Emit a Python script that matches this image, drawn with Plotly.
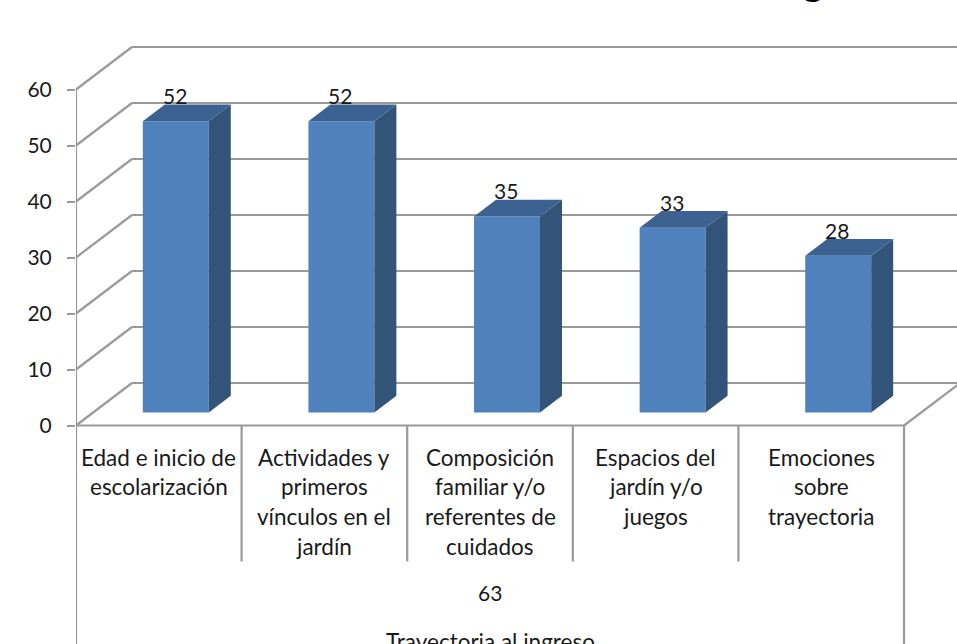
import plotly.graph_objects as go

categories = ["Edad e inicio de<br>escolarización",
              "Actividades y<br>primeros<br>vínculos en el<br>jardín",
              "Composición<br>familiar y/o<br>referentes de<br>cuidados",
              "Espacios del<br>jardín y/o<br>juegos",
              "Emociones<br>sobre<br>trayectoria"]
values = [52, 52, 35, 33, 28]
y_ticks = [0, 10, 20, 30, 40, 50, 60]
group_labels = ["63", "Trayectoria al ingreso"]
title_fragment = "g"

W, H = 957, 644
X0, Y0 = 75.5, 425.5
PX_CAT, PX_VAL = 165.7, 5.6
GRID = "#9a9a9a"
FRONT, SIDE, TOP = "#4f81bd", "#325479", "#3c6292"
TEXT = "#1a1a1a"
FONT = "Lato"
FS_NUM, FS_CAT = 21, 22.5

def dx(px):
    return px / PX_CAT
def dy(px):
    return px / PX_VAL

wall_dx, wall_dy = dx(56), dy(42.5)
floor_dx, floor_dy = dx(17), dy(13)
depth_dx, depth_dy = dx(22), dy(16.7)
bar_w = dx(66)

n = len(categories)
y_bottom = -(H - Y0) / PX_VAL
y_top = Y0 / PX_VAL
x_right = (W - X0) / PX_CAT

fig = go.Figure()

def seg(x1, y1, x2, y2):
    fig.add_shape(type="line", x0=x1, y0=y1, x1=x2, y1=y2, xref="x", yref="y", layer="below",
                  line=dict(color=GRID, width=2.2))

# wall gridlines
for t in y_ticks:
    seg(0, t, wall_dx, t + wall_dy)
    seg(wall_dx, t + wall_dy, n + wall_dx, t + wall_dy)

# floor edges and axis verticals
seg(0, 0, n, 0)
seg(n, 0, n + wall_dx, wall_dy)
seg(0, y_ticks[-1], 0, y_bottom)
seg(n, 0, n, y_bottom)
for i in range(1, n):
    seg(i, 0, i, dy(-136))

# bars
centers = [i + 0.5 + floor_dx for i in range(n)]
fig.add_trace(go.Bar(x=centers, y=values, base=floor_dy, width=bar_w, showlegend=False,
                     marker=dict(color=FRONT, line=dict(width=0))))
for c, v in zip(centers, values):
    l, r = c - bar_w / 2, c + bar_w / 2
    fig.add_trace(go.Scatter(x=[r, r + depth_dx, r + depth_dx, r, r],
                             y=[floor_dy, floor_dy + depth_dy, floor_dy + depth_dy + v, floor_dy + v, floor_dy],
                             fill="toself", fillcolor=SIDE, mode="none", hoverinfo="skip", showlegend=False))
    fig.add_trace(go.Scatter(x=[l, l + depth_dx, r + depth_dx, r, l],
                             y=[floor_dy + v, floor_dy + v + depth_dy, floor_dy + v + depth_dy, floor_dy + v, floor_dy + v],
                             fill="toself", fillcolor=TOP, mode="none", hoverinfo="skip", showlegend=False))
    fig.add_annotation(x=c, y=floor_dy + v + depth_dy, yshift=9, xshift=-1, text=str(v), showarrow=False,
                       font=dict(family=FONT, size=FS_NUM, color=TEXT))

# category labels, one annotation per line
for i, lab in enumerate(categories):
    for j, part in enumerate(lab.split("<br>")):
        fig.add_annotation(x=i + 0.5, y=dy(-31.5 - j * 29.8), text=part, showarrow=False,
                           font=dict(family=FONT, size=FS_CAT, color=TEXT))

fig.add_annotation(x=n / 2, y=dy(-167), text=group_labels[0], showarrow=False,
                   font=dict(family=FONT, size=FS_NUM, color=TEXT))
fig.add_annotation(x=n / 2, y=dy(-216), text=group_labels[1], showarrow=False,
                   font=dict(family=FONT, size=FS_CAT, color=TEXT))

# the only visible remnant of the cropped title
fig.add_annotation(x=dx(813 - X0), y=1, xref="x", yref="paper", yanchor="bottom", yshift=-6,
                   text=title_fragment, showarrow=False,
                   font=dict(family=FONT, size=38, color="#000000", weight="bold"))

fig.update_layout(
    width=W, height=H, margin=dict(l=X0, r=0, t=0, b=0, pad=0), autosize=False,
    paper_bgcolor="white", plot_bgcolor="white", showlegend=False,
    xaxis=dict(range=[0, x_right], visible=False, automargin=False),
    yaxis=dict(range=[y_bottom, y_top], tickvals=y_ticks, ticks="outside", ticklen=8,
               tickwidth=2, tickcolor=GRID, showgrid=False, zeroline=False, showline=False,
               automargin=False, ticklabelstandoff=11,
               tickfont=dict(family=FONT, size=FS_NUM, color=TEXT)),
)
fig.write_html("out.html", config={"displayModeBar": False},
               post_script="document.body.style.margin='0';")
